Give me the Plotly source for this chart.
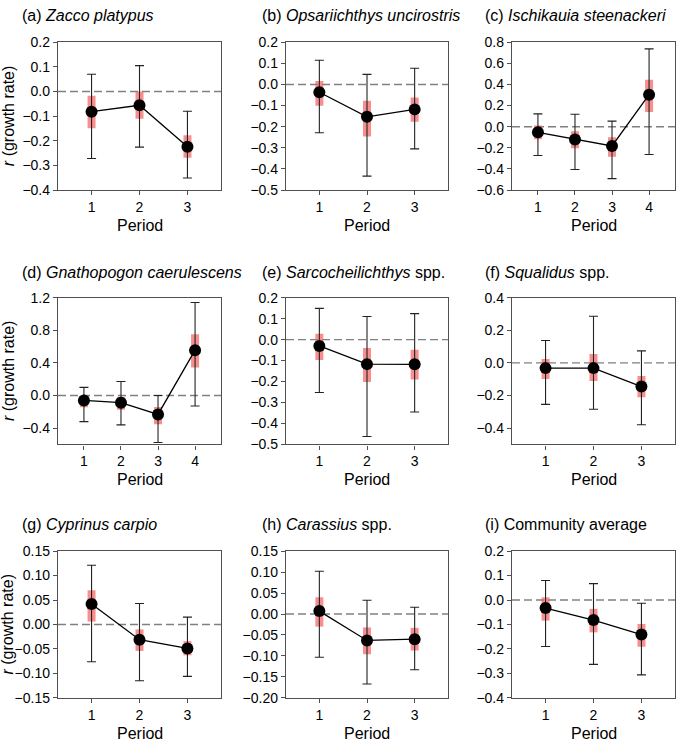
import plotly.graph_objects as go

W, H = 677, 747

# ---------------- data ----------------
titles = [
    "(a) <i>Zacco platypus</i>",
    "(b) <i>Opsariichthys uncirostris</i>",
    "(c) <i>Ischikauia steenackeri</i>",
    "(d) <i>Gnathopogon caerulescens</i>",
    "(e) <i>Sarcocheilichthys</i> spp.",
    "(f) <i>Squalidus</i> spp.",
    "(g) <i>Cyprinus carpio</i>",
    "(h) <i>Carassius</i> spp.",
    "(i) Community average",
]

periods_a = [1, 2, 3]
mean_a = [-0.082, -0.056, -0.224]
ci_hi_a = [0.070, 0.105, -0.080]
ci_lo_a = [-0.272, -0.226, -0.351]
q_hi_a = [-0.017, 0.000, -0.178]
q_lo_a = [-0.149, -0.111, -0.269]

periods_b = [1, 2, 3]
mean_b = [-0.037, -0.153, -0.118]
ci_hi_b = [0.115, 0.048, 0.077]
ci_lo_b = [-0.229, -0.434, -0.305]
q_hi_b = [0.016, -0.077, -0.062]
q_lo_b = [-0.101, -0.246, -0.177]

periods_c = [1, 2, 3, 4]
mean_c = [-0.053, -0.121, -0.183, 0.303]
ci_hi_c = [0.121, 0.118, 0.053, 0.737]
ci_lo_c = [-0.273, -0.406, -0.492, -0.263]
q_hi_c = [0.012, -0.044, -0.100, 0.445]
q_lo_c = [-0.120, -0.204, -0.284, 0.140]

periods_d = [1, 2, 3, 4]
mean_d = [-0.060, -0.088, -0.232, 0.556]
ci_hi_d = [0.100, 0.172, 0.000, 1.140]
ci_lo_d = [-0.320, -0.360, -0.576, -0.128]
q_hi_d = [-0.004, -0.016, -0.140, 0.752]
q_lo_d = [-0.144, -0.176, -0.352, 0.344]

periods_e = [1, 2, 3]
mean_e = [-0.030, -0.117, -0.118]
ci_hi_e = [0.149, 0.110, 0.124]
ci_lo_e = [-0.252, -0.462, -0.345]
q_hi_e = [0.028, -0.040, -0.048]
q_lo_e = [-0.097, -0.202, -0.190]

periods_f = [1, 2, 3]
mean_f = [-0.032, -0.032, -0.145]
ci_hi_f = [0.137, 0.286, 0.074]
ci_lo_f = [-0.254, -0.284, -0.379]
q_hi_f = [0.024, 0.054, -0.080]
q_lo_f = [-0.099, -0.111, -0.211]

periods_g = [1, 2, 3]
mean_g = [0.042, -0.031, -0.049]
ci_hi_g = [0.121, 0.043, 0.015]
ci_lo_g = [-0.076, -0.115, -0.106]
q_hi_g = [0.070, -0.010, -0.034]
q_lo_g = [0.006, -0.054, -0.063]

periods_h = [1, 2, 3]
mean_h = [0.007, -0.063, -0.060]
ci_hi_h = [0.102, 0.033, 0.016]
ci_lo_h = [-0.103, -0.167, -0.133]
q_hi_h = [0.040, -0.032, -0.033]
q_lo_h = [-0.030, -0.096, -0.087]

periods_i = [1, 2, 3]
mean_i = [-0.033, -0.082, -0.141]
ci_hi_i = [0.080, 0.067, -0.013]
ci_lo_i = [-0.190, -0.263, -0.306]
q_hi_i = [0.011, -0.036, -0.098]
q_lo_i = [-0.084, -0.132, -0.191]

y_ranges = [(-0.4, 0.2), (-0.5, 0.2), (-0.6, 0.8),
            (-0.6, 1.2), (-0.5, 0.2), (-0.5, 0.4),
            (-0.15, 0.15), (-0.20, 0.15), (-0.4, 0.2)]
y_tickvals = [
    [-0.4, -0.3, -0.2, -0.1, 0.0, 0.1, 0.2],
    [-0.5, -0.4, -0.3, -0.2, -0.1, 0.0, 0.1, 0.2],
    [-0.6, -0.4, -0.2, 0.0, 0.2, 0.4, 0.6, 0.8],
    [-0.4, 0.0, 0.4, 0.8, 1.2],
    [-0.5, -0.4, -0.3, -0.2, -0.1, 0.0, 0.1, 0.2],
    [-0.4, -0.2, 0.0, 0.2, 0.4],
    [-0.15, -0.10, -0.05, 0.0, 0.05, 0.10, 0.15],
    [-0.20, -0.15, -0.10, -0.05, 0.0, 0.05, 0.10, 0.15],
    [-0.4, -0.3, -0.2, -0.1, 0.0, 0.1, 0.2],
]
y_tickfmt = [".1f", ".1f", ".1f", ".1f", ".1f", ".1f", ".2f", ".2f", ".1f"]

panels = [
    (periods_a, mean_a, ci_hi_a, ci_lo_a, q_hi_a, q_lo_a),
    (periods_b, mean_b, ci_hi_b, ci_lo_b, q_hi_b, q_lo_b),
    (periods_c, mean_c, ci_hi_c, ci_lo_c, q_hi_c, q_lo_c),
    (periods_d, mean_d, ci_hi_d, ci_lo_d, q_hi_d, q_lo_d),
    (periods_e, mean_e, ci_hi_e, ci_lo_e, q_hi_e, q_lo_e),
    (periods_f, mean_f, ci_hi_f, ci_lo_f, q_hi_f, q_lo_f),
    (periods_g, mean_g, ci_hi_g, ci_lo_g, q_hi_g, q_lo_g),
    (periods_h, mean_h, ci_hi_h, ci_lo_h, q_hi_h, q_lo_h),
    (periods_i, mean_i, ci_hi_i, ci_lo_i, q_hi_i, q_lo_i),
]

# ---------------- layout geometry (pixels) ----------------
col_px = [(58, 221), (286, 448), (512, 675)]
row_px = [(35, 186), (296, 446), (555, 705)]
title_x_px = [20, 260, 483]
title_y_px = [8, 270, 528]
period_y_px = [222, 482, 741]

FONT = "Liberation Sans, Arial, sans-serif"
AX = "#505050"
RED = "rgba(245,95,95,0.7)"

fig = go.Figure()
annotations = []
shapes = []

for k, (per, mean, chi, clo, qhi, qlo) in enumerate(panels):
    r, c = divmod(k, 3)
    n = k + 1
    xa = "x" if n == 1 else f"x{n}"
    ya = "y" if n == 1 else f"y{n}"
    # red inner bars
    xs, ys = [], []
    for p, a, b in zip(per, qhi, qlo):
        xs += [p, p, None]
        ys += [a, b, None]
    fig.add_trace(go.Scatter(x=xs, y=ys, mode="lines",
                             line=dict(color=RED, width=8),
                             xaxis=xa, yaxis=ya, showlegend=False,
                             hoverinfo="skip"))
    # mean with CI error bars
    fig.add_trace(go.Scatter(
        x=per, y=mean, mode="lines+markers",
        line=dict(color="black", width=1.3),
        marker=dict(color="black", size=12),
        error_y=dict(type="data", symmetric=False,
                     array=[h - m for h, m in zip(chi, mean)],
                     arrayminus=[m - l for m, l in zip(mean, clo)],
                     color="#222222", thickness=1.1, width=4.5),
        xaxis=xa, yaxis=ya, showlegend=False))

    x0, x1 = col_px[c]
    y0, y1 = row_px[r]
    nper = len(per)
    xr = [0.3, nper + 0.7]
    fig.layout[f"xaxis{'' if n == 1 else n}"] = dict(
        domain=[x0 / W, x1 / W], anchor=ya, range=xr,
        tickvals=per, ticktext=[str(p) for p in per],
        showline=True, linecolor=AX, linewidth=1.3, mirror=True,
        ticks="outside", ticklen=4, tickcolor=AX,
        showgrid=False, zeroline=False,
        tickfont=dict(family=FONT, size=14, color="black"))
    fig.layout[f"yaxis{'' if n == 1 else n}"] = dict(
        domain=[1 - y1 / H, 1 - y0 / H], anchor=xa, range=list(y_ranges[k]),
        tickvals=y_tickvals[k], tickformat=y_tickfmt[k],
        showline=True, linecolor=AX, linewidth=1.3, mirror=True,
        ticks="outside", ticklen=4, tickcolor=AX,
        showgrid=False, zeroline=False,
        tickfont=dict(family=FONT, size=14, color="black"))

    # zero dashed line
    shapes.append(dict(type="line", xref=f"{xa} domain", yref=ya,
                       x0=0, x1=1, y0=0, y1=0, layer="below",
                       line=dict(color="#808080", width=1.4, dash="8px,4px")))
    # panel title
    annotations.append(dict(text=titles[k], x=title_x_px[c] / W,
                            y=1 - title_y_px[r] / H, xref="paper", yref="paper",
                            xanchor="left", yanchor="middle", showarrow=False,
                            font=dict(family=FONT, size=16, color="black")))
    # x label
    annotations.append(dict(text="Period", x=(x0 + x1) / 2 / W,
                            y=1 - period_y_px[r] / H, xref="paper", yref="paper",
                            xanchor="center", yanchor="middle", showarrow=False,
                            font=dict(family=FONT, size=16, color="black")))
    if c == 0:
        annotations.append(dict(text="<i>r</i> (growth rate)", x=8 / W,
                                y=1 - (y0 + y1) / 2 / H, xref="paper", yref="paper",
                                xanchor="center", yanchor="middle", showarrow=False,
                                textangle=-90,
                                font=dict(family=FONT, size=16, color="black")))

fig.update_layout(width=W, height=H, margin=dict(l=0, r=0, t=0, b=0),
                  paper_bgcolor="white", plot_bgcolor="white",
                  annotations=annotations, shapes=shapes, showlegend=False,
                  font=dict(family=FONT))
fig.write_html("out.html")
